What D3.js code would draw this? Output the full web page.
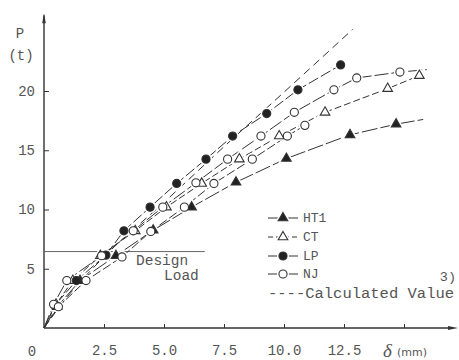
<!DOCTYPE html>
<html>
<head>
<meta charset="utf-8">
<script src="https://cdn.jsdelivr.net/npm/d3@7"></script>
<style>
body { margin: 0; background: #fff; }
text { font-family: 'Liberation Mono', 'DejaVu Sans Mono', monospace; fill: #555; }
</style>
</head>
<body>
<div id="chart"></div>
<script>
const xTicks = [2.5, 5, 7.5, 10, 12.5, 15];
const xTickLabels = ['2.5', '5.0', '7.5', '10.0', '12.5', ''];
const yTicks = [5, 10, 15, 20];

const ht1X = [0, 0.55, 1.5, 3.0, 4.55, 6.15, 8.0, 10.1, 12.75, 14.67, 15.8];
const ht1Y = [0, 1.8, 4.0, 6.1, 8.25, 10.2, 12.3, 14.3, 16.3, 17.2, 17.6];

const ctX = [0, 0.5, 1.2, 2.35, 3.8, 5.1, 6.57, 8.14, 9.8, 11.71, 14.32, 15.64];
const ctY = [0, 2.0, 4.0, 6.1, 8.2, 10.2, 12.2, 14.25, 16.2, 18.2, 20.2, 21.3];

const lpX = [0, 0.45, 1.35, 2.58, 3.33, 4.42, 5.53, 6.75, 7.86, 9.28, 10.58, 12.36];
const lpY = [0, 1.9, 4.0, 6.15, 8.2, 10.2, 12.2, 14.25, 16.2, 18.1, 20.1, 22.2];

const njX = [0, 0.4, 0.95, 2.4, 3.72, 4.95, 6.33, 7.65, 9.04, 10.43, 12.08, 13.03, 14.83, 15.95];
const njY = [0, 2.0, 4.0, 6.1, 8.2, 10.2, 12.25, 14.25, 16.2, 18.2, 20.1, 21.1, 21.6, 21.8];

const nj2X = [0, 0.6, 1.75, 3.25, 4.45, 5.85, 7.08, 8.68, 10.14, 10.87];
const nj2Y = [0, 1.8, 4.0, 6.0, 8.15, 10.2, 12.2, 14.25, 16.2, 17.1];

const calcX = [0, 1, 2.5, 5, 7.5, 10, 12.86];
const calcY = [0, 2.7, 6.0, 10.6, 15.3, 19.9, 25.2];

const designLoad = 6.45;
const designLoadEnd = 6.7;

const width = 459;
const height = 360;

const svg = d3.select('#chart').append('svg')
    .attr('width', width)
    .attr('height', height);

const xScale = d3.scaleLinear()
    .domain([0, 15])
    .range([44, 404]);

const yScale = d3.scaleLinear()
    .domain([0, 20])
    .range([328, 91]);

const ink = '#333';

// axes
const xAxis = svg.append('g')
    .attr('transform', `translate(0, ${yScale(0)})`)
    .call(d3.axisBottom(xScale)
        .tickValues(xTicks)
        .tickSize(-4)
        .tickPadding(17)
        .tickFormat((d, i) => xTickLabels[i]));
xAxis.select('.domain').remove();
xAxis.selectAll('line').attr('stroke', ink);
xAxis.selectAll('text').style('font-size', '14px');

const yAxis = svg.append('g')
    .attr('transform', `translate(${xScale(0)}, 0)`)
    .call(d3.axisLeft(yScale)
        .tickValues(yTicks)
        .tickSize(-5)
        .tickPadding(9));
yAxis.select('.domain').remove();
yAxis.selectAll('line').attr('stroke', ink);
yAxis.selectAll('text').style('font-size', '14px');

svg.append('line')
    .attr('x1', xScale(0)).attr('y1', yScale(0))
    .attr('x2', xScale(17)).attr('y2', yScale(0))
    .attr('stroke', ink).attr('stroke-width', 1.4);
svg.append('path')
    .attr('d', `M${xScale(17) + 6},${yScale(0)} l-10,-2 l0,4 z`)
    .attr('fill', ink);

svg.append('line')
    .attr('x1', xScale(0)).attr('y1', yScale(0))
    .attr('x2', xScale(0)).attr('y2', yScale(26.4))
    .attr('stroke', ink).attr('stroke-width', 1.4);
svg.append('path')
    .attr('d', `M${xScale(0)},${yScale(26.4) - 2} l-1.8,10 l3.6,0 z`)
    .attr('fill', ink);

svg.append('text')
    .attr('x', 32).attr('y', 356)
    .attr('text-anchor', 'middle')
    .style('font-size', '14px')
    .text('0');

svg.append('text')
    .attr('x', 20).attr('y', 38)
    .attr('text-anchor', 'middle')
    .style('font-size', '14px')
    .text('P');
svg.append('text')
    .attr('x', 21).attr('y', 60)
    .attr('text-anchor', 'middle')
    .style('font-size', '14px')
    .text('(t)');

svg.append('text')
    .attr('x', 383).attr('y', 357)
    .style('font-family', "'Liberation Serif', serif")
    .style('font-style', 'italic')
    .style('font-size', '19px')
    .text('δ');
svg.append('text')
    .attr('x', 397).attr('y', 356)
    .style('font-family', "'DejaVu Sans', sans-serif")
    .style('font-size', '11px')
    .text('(mm)');

// design load
svg.append('line')
    .attr('x1', xScale(0)).attr('x2', xScale(designLoadEnd))
    .attr('y1', yScale(designLoad)).attr('y2', yScale(designLoad))
    .attr('stroke', '#666').attr('stroke-width', 1);
svg.append('text')
    .attr('x', 136).attr('y', 265)
    .style('font-size', '14.5px')
    .text('Design');
svg.append('text')
    .attr('x', 164).attr('y', 280)
    .style('font-size', '14.5px')
    .text('Load');

// curves
const series = [
    { name: 'HT1', xs: ht1X, ys: ht1Y, shape: d3.symbolTriangle, filled: true, dash: '16,3', tail: true, legend: true },
    { name: 'CT', xs: ctX, ys: ctY, shape: d3.symbolTriangle, filled: false, dash: '7,3', tail: false, legend: true },
    { name: 'LP', xs: lpX, ys: lpY, shape: d3.symbolCircle, filled: true, dash: '11,3', tail: false, legend: true },
    { name: 'NJ', xs: njX, ys: njY, shape: d3.symbolCircle, filled: false, dash: '14,3', tail: true, legend: true },
    { name: 'NJ2', xs: nj2X, ys: nj2Y, shape: d3.symbolCircle, filled: false, dash: '9,3', tail: false, legend: false }
];

const line = d3.line()
    .x(d => xScale(d[0]))
    .y(d => yScale(d[1]));

svg.append('path')
    .datum(d3.zip(calcX, calcY))
    .attr('d', line.curve(d3.curveMonotoneX))
    .attr('fill', 'none')
    .attr('stroke', ink)
    .attr('stroke-width', 1)
    .attr('stroke-dasharray', '8,5');

line.curve(d3.curveLinear);

series.forEach(s => {
    svg.append('path')
        .datum(d3.zip(s.xs, s.ys))
        .attr('d', line)
        .attr('fill', 'none')
        .attr('stroke', ink)
        .attr('stroke-width', 1)
        .attr('stroke-dasharray', s.dash);
});

const symbolSize = shape => shape === d3.symbolTriangle ? 40 : 52;

series.forEach(s => {
    const pts = d3.zip(s.xs, s.ys).slice(1, s.tail ? -1 : undefined);
    const sym = d3.symbol().type(s.shape).size(symbolSize(s.shape));
    svg.append('g').selectAll('path')
        .data(pts)
        .enter()
        .append('path')
        .attr('d', sym)
        .attr('transform', d => `translate(${xScale(d[0])}, ${yScale(d[1])})`)
        .attr('fill', '#fff')
        .attr('stroke', '#fff')
        .attr('stroke-width', 4);
});

series.forEach(s => {
    const pts = d3.zip(s.xs, s.ys).slice(1, s.tail ? -1 : undefined);
    const sym = d3.symbol().type(s.shape).size(symbolSize(s.shape));
    svg.append('g').selectAll('path')
        .data(pts)
        .enter()
        .append('path')
        .attr('d', sym)
        .attr('transform', d => `translate(${xScale(d[0])}, ${yScale(d[1])})`)
        .attr('fill', s.filled ? '#222' : '#fff')
        .attr('stroke', ink)
        .attr('stroke-width', 1.1);
});

// legend
const legendRows = [218, 237, 256, 274];
const legend = svg.append('g');
series.filter(s => s.legend).forEach((s, i) => {
    const ly = legendRows[i];
    legend.append('line')
        .attr('x1', 268).attr('x2', 298)
        .attr('y1', ly).attr('y2', ly)
        .attr('stroke', ink).attr('stroke-width', 1)
        .attr('stroke-dasharray', s.name === 'CT' ? '5,3' : null);
    legend.append('path')
        .attr('d', d3.symbol().type(s.shape).size(symbolSize(s.shape)))
        .attr('transform', `translate(283, ${ly})`)
        .attr('fill', s.filled ? '#222' : '#fff')
        .attr('stroke', '#fff')
        .attr('stroke-width', 4);
    legend.append('path')
        .attr('d', d3.symbol().type(s.shape).size(symbolSize(s.shape)))
        .attr('transform', `translate(283, ${ly})`)
        .attr('fill', s.filled ? '#222' : '#fff')
        .attr('stroke', ink)
        .attr('stroke-width', 1.1);
    legend.append('text')
        .attr('x', 303).attr('y', ly + 4)
        .style('font-size', '13px')
        .text(s.name);
});

legend.append('text')
    .attr('x', 268).attr('y', 298)
    .style('font-size', '15.5px')
    .text('----Calculated Value');

svg.append('text')
    .attr('x', 456).attr('y', 281)
    .attr('text-anchor', 'end')
    .style('font-size', '13.5px')
    .text('3)');
</script>
</body>
</html>
